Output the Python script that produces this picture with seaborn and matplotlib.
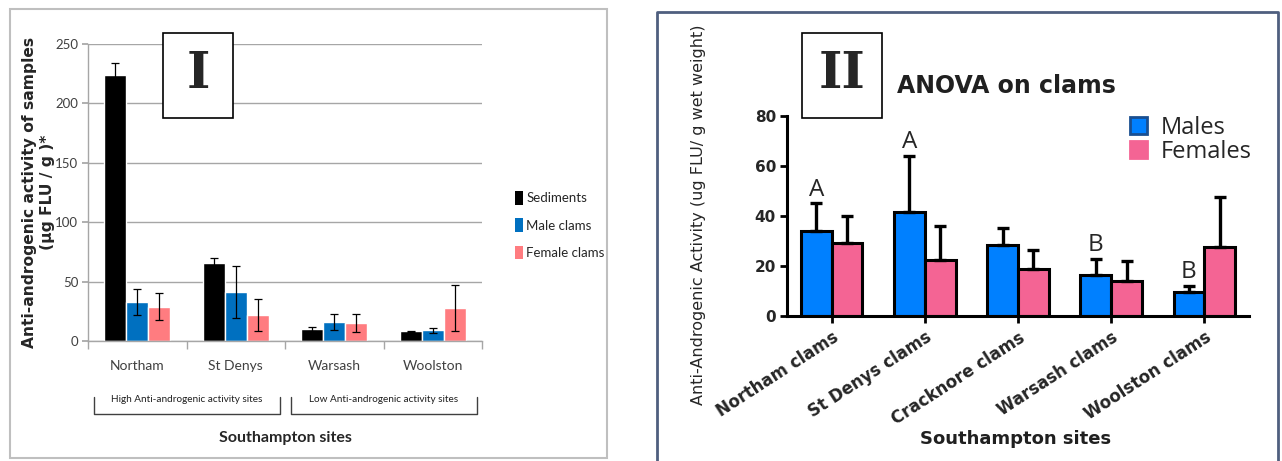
import matplotlib.pyplot as plt
import numpy as np
import pandas as pd
import seaborn as sns
from matplotlib.lines import Line2D
from matplotlib.patches import Patch, Rectangle


# ---------------------------------------------------------
# Data
# ---------------------------------------------------------

# panel I
sites_1 = ["Northam", "St Denys", "Warsash", "Woolston"]
groups_1 = ["Sediments", "Male clams", "Female clams"]
sediments = [224, 66, 10, 8]
sediments_err = [10, 4, 2, 0.5]
male_clams = [33, 41, 16, 9]
male_clams_err = [11, 22, 6.5, 2]
female_clams = [29, 22, 15, 28]
female_clams_err = [11, 13.5, 7.5, 19.5]
colors_1 = ["#000000", "#0070C0", "#FF7C80"]
bracket_labels = ["High Anti-androgenic activity sites",
                  "Low Anti-androgenic activity sites"]

# panel II
sites_2 = ["Northam clams", "St Denys clams", "Cracknore clams",
           "Warsash clams", "Woolston clams"]
groups_2 = ["Males", "Females"]
males = [34, 41.5, 28.5, 16.5, 9.5]
males_err = [11, 22.5, 6.5, 6.5, 2.5]
females = [29, 22.5, 19, 14, 27.5]
females_err = [11, 13.5, 7.5, 8, 20]
letters = ["A", "A", "", "B", "B"]
colors_2 = ["#0080FF", "#F46494"]

W, H = 1282, 461


def fx(x):
    return x / W


def fy(y):
    return 1 - y / H


sns.set_theme(style="white")
plt.rcParams["font.family"] = ["DejaVu Sans"]

fig = plt.figure(figsize=(W / 100, H / 100), dpi=100)

# =========================================================
# Panel I
# =========================================================

df1 = pd.DataFrame({
    "site": sites_1 * 3,
    "group": np.repeat(groups_1, len(sites_1)),
    "value": sediments + male_clams + female_clams,
})

ax1 = fig.add_axes([fx(88), fy(341), (482 - 88) / W, (341 - 44) / H])

sns.barplot(
    data=df1, x="site", y="value", hue="group",
    hue_order=groups_1, palette=colors_1,
    width=0.67, gap=0, saturation=1,
    errorbar=None, legend=False, ax=ax1
)

for cont, errs in zip(ax1.containers,
                      [sediments_err, male_clams_err, female_clams_err]):
    xs = [b.get_x() + b.get_width() / 2 for b in cont]
    ys = [b.get_height() for b in cont]
    ax1.errorbar(xs, ys, yerr=errs, fmt="none", ecolor="black",
                 elinewidth=0.9, capsize=2.8, capthick=0.9)

grey = "#A6A6A6"
ax1.set_xlim(-0.5, 3.5)
ax1.set_ylim(0, 250)
ax1.set_yticks(range(0, 251, 50))
ax1.yaxis.grid(True, color=grey, lw=1)
ax1.set_axisbelow(True)
for s in ["top", "right"]:
    ax1.spines[s].set_visible(False)
for s in ["left", "bottom"]:
    ax1.spines[s].set_color(grey)
    ax1.spines[s].set_linewidth(1)

ax1.tick_params(axis="y", left=True, length=4, color=grey,
                labelsize=9.5, labelcolor="#404040", pad=3)
for lab in ax1.get_yticklabels():
    lab.set_family("Lato")

ax1.set_xticks(range(len(sites_1)))
ax1.set_xticklabels(sites_1, fontfamily="Lato", fontsize=10,
                    color="#404040")
ax1.set_xticks(np.arange(-0.5, len(sites_1)), minor=True)
ax1.tick_params(axis="x", which="major", length=0, pad=14)
ax1.tick_params(axis="x", which="minor", bottom=True, length=6,
                color=grey)
ax1.set_xlabel("")

ax1.set_ylabel("Anti-androgenic activity of samples\n(µg FLU / g )*",
               fontweight="bold", fontsize=11.2, linespacing=1.25)
ax1.yaxis.set_label_coords(-0.083, 0.5)

# site group brackets
xt = ax1.get_xaxis_transform()
for (x0, x1), lab in zip([(-0.44, 1.45), (1.56, 3.45)], bracket_labels):
    ax1.plot([x0, x0, x1, x1], [-0.189, -0.246, -0.246, -0.189],
             transform=xt, clip_on=False, color="#404040", lw=1)
    ax1.text((x0 + x1) / 2, -0.197, lab, transform=xt, ha="center",
             va="center", fontsize=7.2, family="Lato", color="#202020")

ax1.text(1.5, -0.327, "Southampton sites", transform=xt, ha="center",
         va="center", fontsize=11.5, fontweight="bold", family="Lato")

leg1 = [Patch(facecolor=c, edgecolor="none") for c in colors_1]
ax1.legend(leg1, groups_1, loc="upper left",
           bbox_to_anchor=(fx(515), fy(191)),
           bbox_transform=fig.transFigure, frameon=False,
           prop={"family": "Lato", "size": 9.5},
           handlelength=0.6, handleheight=1.2, labelspacing=1.05,
           handletextpad=0.25, borderpad=0, borderaxespad=0)

# panel frame and label box
fig.add_artist(Rectangle((fx(10), fy(458)), fx(607) - fx(10),
                         fy(9) - fy(458), fill=False,
                         edgecolor="#BFBFBF", lw=1.5,
                         transform=fig.transFigure))
fig.add_artist(Rectangle((fx(163), fy(118)), fx(233) - fx(163),
                         fy(33) - fy(118), facecolor="white",
                         edgecolor="black", lw=1.2,
                         transform=fig.transFigure, zorder=5))
fig.text(fx(198), fy(74), "I", family="DejaVu Serif", fontweight="bold",
         fontsize=36, ha="center", va="center", zorder=6)

# =========================================================
# Panel II
# =========================================================

df2 = pd.DataFrame({
    "site": sites_2 * 2,
    "group": np.repeat(groups_2, len(sites_2)),
    "value": males + females,
})

ax2 = fig.add_axes([fx(787), fy(316), (1249 - 787) / W, 200 / H])

sns.barplot(
    data=df2, x="site", y="value", hue="group",
    hue_order=groups_2, palette=colors_2,
    width=0.66, gap=0, saturation=1,
    edgecolor="black", linewidth=2.2,
    errorbar=None, legend=False, ax=ax2
)

for k, (cont, errs) in enumerate(zip(ax2.containers,
                                     [males_err, females_err])):
    xs = [b.get_x() + b.get_width() / 2 for b in cont]
    ys = [b.get_height() for b in cont]
    ax2.errorbar(xs, ys, yerr=[np.zeros(len(errs)), errs], fmt="none",
                 ecolor="black", elinewidth=2.4, capsize=4.5,
                 capthick=2.4, zorder=1)
    if k == 0:
        for x, y, e, t in zip(xs, ys, errs, letters):
            if t:
                ax2.text(x, y + e + 0.8, t, ha="center", va="bottom",
                         fontsize=17.5, family="Open Sans")

ax2.set_xlim(-0.48, 4.48)
ax2.set_ylim(0, 80)
ax2.set_yticks(range(0, 81, 20))
for s in ["top", "right"]:
    ax2.spines[s].set_visible(False)
for s in ["left", "bottom"]:
    ax2.spines[s].set_color("black")
    ax2.spines[s].set_linewidth(2.2)

ax2.tick_params(axis="y", left=True, length=5, width=2, color="black",
                labelsize=11, pad=3)
for lab in ax2.get_yticklabels():
    lab.set_fontweight("bold")

ax2.set_xticks(range(len(sites_2)))
ax2.set_xticklabels(sites_2, rotation=33, ha="right", va="top",
                    rotation_mode="anchor", fontweight="bold",
                    fontsize=12)
ax2.tick_params(axis="x", bottom=True, length=5, width=2, color="black",
                pad=4)
ax2.set_xlabel("")

ax2.set_ylabel("Anti-Androgenic Activity (ug FLU/ g wet weight)",
               fontsize=11.5)
ax2.yaxis.set_label_coords(-0.175, 0.505)

fig.text(fx(1016), fy(439), "Southampton sites", ha="center",
         va="center", fontsize=13, fontweight="bold", color="#202020")

fig.text(fx(897), fy(86), "ANOVA on clams", ha="left", va="center",
         fontsize=17, fontweight="bold", color="#202020")

leg2 = [Patch(facecolor=colors_2[0], edgecolor="#1A4F91", lw=2),
        Patch(facecolor=colors_2[1], edgecolor=colors_2[1], lw=2)]
ax2.legend(leg2, groups_2, loc="upper left",
           bbox_to_anchor=(fx(1130), fy(116)),
           bbox_transform=fig.transFigure, frameon=False,
           prop={"family": "Open Sans", "size": 17},
           handlelength=0.7, handleheight=0.7, labelspacing=0.0,
           handletextpad=0.6, borderpad=0, borderaxespad=0)

# panel frame and label box
fig.add_artist(Line2D([fx(657), fx(657), fx(1278), fx(1278)],
                      [fy(470), fy(12), fy(12), fy(470)],
                      color="#4F5F7F", lw=2,
                      transform=fig.transFigure))
fig.add_artist(Rectangle((fx(802), fy(118)), fx(882) - fx(802),
                         fy(33) - fy(118), facecolor="white",
                         edgecolor="black", lw=1.2,
                         transform=fig.transFigure, zorder=5))
fig.text(fx(842), fy(74), "II", family="DejaVu Serif", fontweight="bold",
         fontsize=36, ha="center", va="center", zorder=6)

fig.savefig("out.png", dpi=100)
